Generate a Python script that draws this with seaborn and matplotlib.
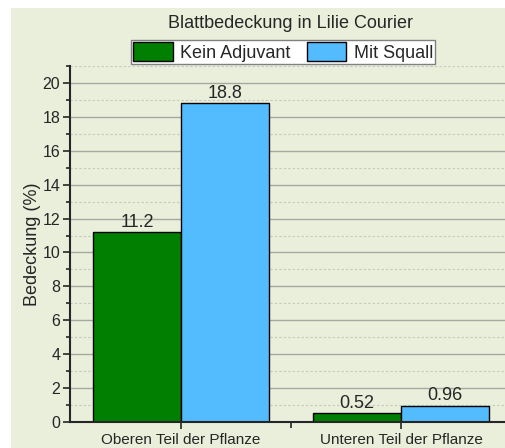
import matplotlib
matplotlib.use('Agg')
import matplotlib.pyplot as plt
import seaborn as sns
import pandas as pd
from matplotlib.patches import Rectangle
from matplotlib.ticker import MultipleLocator

# data
parts = ['Oberen Teil der Pflanze', 'Unteren Teil der Pflanze']
treatments = ['Kein Adjuvant', 'Mit Squall']
kein_adjuvant = [11.2, 0.52]
mit_squall = [18.8, 0.96]
value_labels = {'Kein Adjuvant': ['11.2', '0.52'], 'Mit Squall': ['18.8', '0.96']}

df = pd.DataFrame({
    'Teil': parts * 2,
    'Behandlung': [treatments[0]] * 2 + [treatments[1]] * 2,
    'Bedeckung': kein_adjuvant + mit_squall,
})

sns.set_style('ticks')
plt.rcParams['font.family'] = ['Liberation Sans', 'DejaVu Sans']

bg = '#E9EFDB'
fig = plt.figure(figsize=(5.06, 4.48), dpi=100)
fig.patches.append(Rectangle((11 / 506, -0.05), 1.1, 1.05 - 8 / 448, transform=fig.transFigure,
                             facecolor=bg, edgecolor='none', zorder=-10))

ax = fig.add_axes([70 / 506, 26 / 448, 441 / 506, 356 / 448])
ax.patch.set_alpha(0)

sns.barplot(data=df, x='Teil', y='Bedeckung', hue='Behandlung', hue_order=treatments,
            palette=['#007F00', '#52BCFF'], edgecolor='black', linewidth=1,
            width=0.8, gap=0, saturation=1, ax=ax)

for container, name in zip(ax.containers, treatments):
    ax.bar_label(container, labels=value_labels[name], fontsize=13, padding=1)

ax.set_ylim(0, 21)
ax.set_xlim(-0.505, 1.5)
ax.yaxis.set_major_locator(MultipleLocator(2))
ax.yaxis.set_minor_locator(MultipleLocator(1))
ax.set_xticks([0.5], minor=True)
ax.grid(axis='y', which='major', color='#A6AA9E', linewidth=1, linestyle='-')
ax.grid(axis='y', which='minor', color='#C4C8BC', linewidth=0.8, linestyle=(0, (2, 2)))
ax.set_axisbelow(True)

ax.tick_params(axis='y', which='major', length=5, width=1.2, labelsize=11.5, pad=2)
ax.tick_params(axis='y', which='minor', length=3, width=1.2)
ax.tick_params(axis='x', which='major', length=5, width=1.2, labelsize=11, pad=3)
ax.tick_params(axis='x', which='minor', length=4, width=1.2)

for side in ['top', 'right']:
    ax.spines[side].set_visible(False)
for side in ['left', 'bottom']:
    ax.spines[side].set_linewidth(1.5)

ax.set_xlabel('')
ax.set_ylabel('Bedeckung (%)', fontsize=13)
ax.yaxis.set_label_coords(-0.065, 0.5)

handles, labels = ax.get_legend_handles_labels()
ax.legend(handles, labels, loc='center', bbox_to_anchor=(283 / 506, 1 - 52 / 448),
          bbox_transform=fig.transFigure, ncol=2, fontsize=13, frameon=True,
          fancybox=False, edgecolor='#808080', framealpha=1, handlelength=2.2,
          handleheight=1.25, borderpad=0.12, columnspacing=0.9, handletextpad=0.4,
          borderaxespad=0)

fig.text(290 / 506, 1 - 24 / 448, 'Blattbedeckung in Lilie Courier', ha='center', va='center',
         fontsize=13)

fig.savefig('out.png', dpi=100)
